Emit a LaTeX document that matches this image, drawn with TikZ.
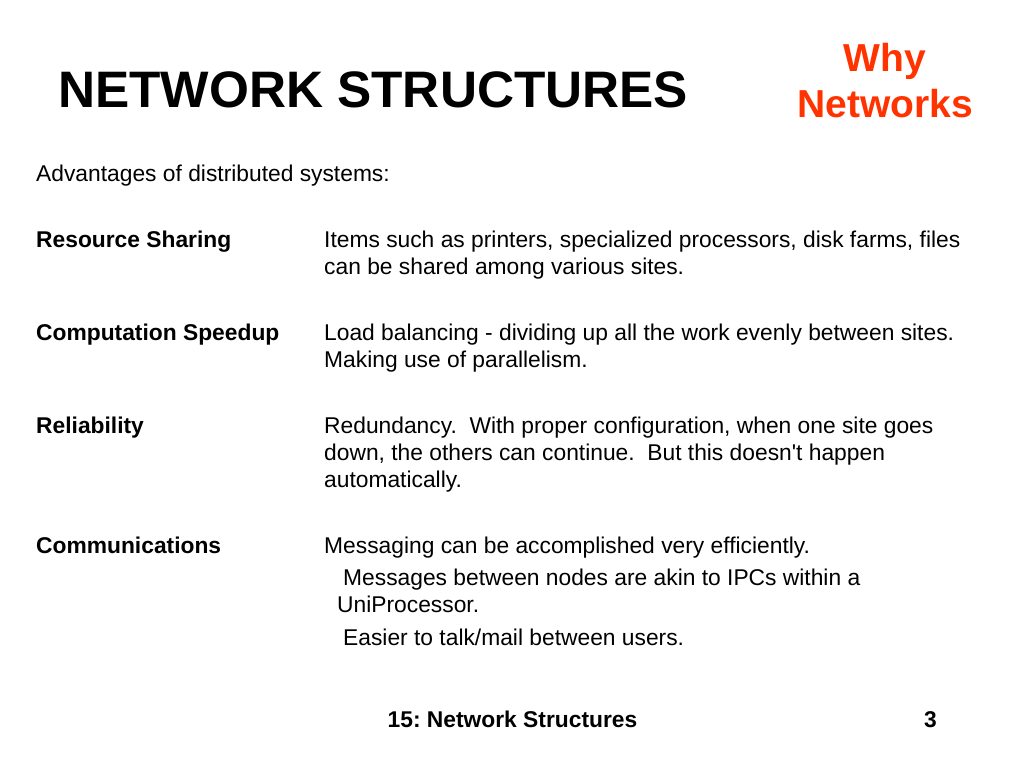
\documentclass[tikz,border=0pt]{standalone}
\usepackage{fontspec}
\setmainfont{Liberation Sans}
\usetikzlibrary{positioning}
\definecolor{whyred}{RGB}{255,51,0}
\frenchspacing

\begin{document}
\begin{tikzpicture}[x=1pt,y=-1pt,
  txt/.style={anchor=base west,inner sep=0pt,font=\fontsize{22.8}{27}\selectfont},
  lbl/.style={txt,font=\fontsize{22.8}{27}\selectfont\bfseries}]
\useasboundingbox[fill=white] (0,0) rectangle (1024,768);
\node[anchor=base west,inner sep=0pt,font=\fontsize{51.3}{60}\selectfont\bfseries] (title) at (58,107) {NETWORK STRUCTURES};
\node[anchor=base,inner sep=0pt,text=whyred,font=\fontsize{39}{46}\selectfont\bfseries] (why) at (885,71) {Why};
\node[anchor=base,inner sep=0pt,text=whyred,font=\fontsize{39}{46}\selectfont\bfseries] (networks) at (885,117) {Networks};
\node[txt] (adv) at (36,181) {Advantages of distributed systems:};
% resource sharing
\node[lbl] (res) at (36,247) {Resource Sharing};
\node[txt] (res1) at (324,247) {Items such as printers, specialized processors, disk farms, files};
\node[txt] (res2) at (324,274) {can be shared among various sites.};
% computation speedup
\node[lbl] (comp) at (36,340) {Computation Speedup};
\node[txt] (comp1) at (324,340) {Load balancing - dividing up all the work evenly between sites.};
\node[txt] (comp2) at (324,367) {Making use of parallelism.};
% reliability
\node[lbl] (rel) at (36,433) {Reliability};
\node[txt] (rel1) at (324,433) {Redundancy.\ \ With proper configuration, when one site goes};
\node[txt] (rel2) at (324,460) {down, the others can continue.\ \ But this doesn\textquotesingle t happen};
\node[txt] (rel3) at (324,487) {automatically.};
% communications
\node[lbl] (comm) at (36,553) {Communications};
\node[txt] (comm1) at (324,553) {Messaging can be accomplished very efficiently.};
\node[txt] (comm2) at (343,585) {Messages between nodes are akin to IPCs within a};
\node[txt] (comm3) at (337,612) {UniProcessor.};
\node[txt] (comm4) at (343,645) {Easier to talk/mail between users.};
% footer
\node[lbl,anchor=base] (foot) at (512.5,727) {15: Network Structures};
\node[lbl,anchor=base east] (page) at (937,727) {3};
\end{tikzpicture}
\end{document}
